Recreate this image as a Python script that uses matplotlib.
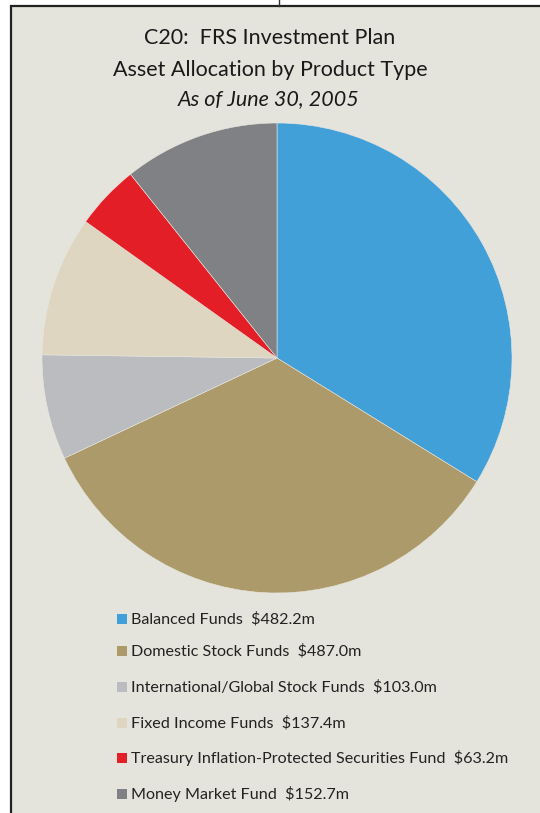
import matplotlib.pyplot as plt
from matplotlib.patches import Rectangle
from matplotlib.lines import Line2D

categories = ["Balanced Funds", "Domestic Stock Funds", "International/Global Stock Funds",
              "Fixed Income Funds", "Treasury Inflation-Protected Securities Fund", "Money Market Fund"]
values = [482.2, 487.0, 103.0, 137.4, 63.2, 152.7]
colors = ["#42a0d8", "#ad9a6a", "#bbbcc0", "#ded6c1", "#e31e26", "#808185"]

W, H = 540, 813
bg = "#e5e4dc"
plt.rcParams['font.family'] = ['Lato', 'DejaVu Sans']

fig = plt.figure(figsize=(W / 100, H / 100), dpi=100)
fig.patch.set_facecolor("white")

def fx(x):
    return x / W

def fy(y):
    return 1 - y / H

# panel box
fig.patches.append(Rectangle((fx(11), fy(900)), fx(600), fy(6) - fy(900), transform=fig.transFigure,
                             facecolor=bg, edgecolor="#222222", linewidth=1.6, zorder=-5))
fig.lines.append(Line2D([fx(279), fx(279)], [fy(0), fy(6)], transform=fig.transFigure,
                        color="#333333", linewidth=1.0))

# titles
fig.text(fx(270), fy(38), "C20:  FRS Investment Plan", ha="center", va="center", fontsize=15.5, color="#1a1a1a")
fig.text(fx(270), fy(70), "Asset Allocation by Product Type", ha="center", va="center", fontsize=15.5, color="#1a1a1a")
fig.text(fx(269), fy(99), "As of June 30, 2005", ha="center", va="center", fontsize=15.5, style="italic", color="#1a1a1a")

# pie
cx, cy, r = 277, 358, 235
ax = fig.add_axes([fx(cx - r), fy(cy + r), fx(2 * r), fy(cy - r) - fy(cy + r)])
ax.pie(values, colors=colors, startangle=90, counterclock=False,
       wedgeprops=dict(linewidth=0.4, edgecolor="#e8e6e0"))
ax.set_xlim(-1, 1)
ax.set_ylim(-1, 1)
ax.set_aspect("equal")
ax.axis("off")

# legend
rows = [619, 651, 687, 723, 758, 794]
for name, val, col, y in zip(categories, values, colors, rows):
    fig.patches.append(Rectangle((fx(117), fy(y + 5)), fx(10), fy(y - 5) - fy(y + 5),
                                 transform=fig.transFigure, facecolor=col, edgecolor="none"))
    fig.text(fx(131), fy(y), f"{name}  ${val:.1f}m", ha="left", va="center",
             fontsize=11.6, color="#222222")

fig.savefig("out.png", dpi=100, facecolor=fig.get_facecolor())
